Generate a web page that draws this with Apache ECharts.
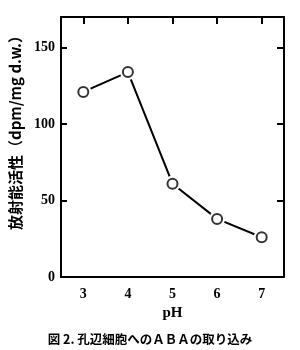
<!DOCTYPE html>
<html><head><meta charset="utf-8">
<script src="https://cdn.jsdelivr.net/npm/echarts@6/dist/echarts.min.js"></script>
<style>html,body{margin:0;padding:0;background:#fff}#c{width:300px;height:350px}</style>
</head><body><div id="c"></div>
<script>
const categories = ['3', '4', '5', '6', '7'];
const activity = [121, 134, 61, 38, 26];
const yTicks = [0, 50, 100, 150];
const yTitle = '放射能活性（dpm/mg d.w.）';
const xTitle = 'pH';
const caption = '図 2. 孔辺細胞へのＡＢＡの取り込み';

const chart = echarts.init(document.getElementById('c'), null, {renderer: 'canvas'});
const numFont = 'Liberation Serif';
chart.setOption({
  animation: false,
  backgroundColor: '#fff',
  title: {
    text: caption, left: 'center', top: 328,
    textStyle: {fontFamily: 'Noto Sans CJK JP', fontSize: 12.5, fontWeight: 'bold', color: '#000'}
  },
  grid: {left: 55, right: 16, top: 17, bottom: 73},
  xAxis: [{
    type: 'category', data: categories, position: 'bottom', boundaryGap: true,
    name: xTitle, nameLocation: 'middle', nameGap: 27,
    nameTextStyle: {fontFamily: numFont, fontSize: 15, fontWeight: 'bold', color: '#000'},
    axisLine: {onZero: false, lineStyle: {color: '#000', width: 2}},
    axisTick: {alignWithLabel: true, inside: true, length: 7, lineStyle: {width: 2, color: '#000'}},
    axisLabel: {fontFamily: numFont, fontSize: 14, fontWeight: 'bold', color: '#000', margin: 10},
    splitLine: {show: false}
  }, {
    type: 'category', data: categories, position: 'top', boundaryGap: true,
    axisLine: {show: true, onZero: false, lineStyle: {color: '#000', width: 2}},
    axisTick: {show: true, alignWithLabel: true, inside: true, length: 7, lineStyle: {width: 2, color: '#000'}},
    axisLabel: {show: false}
  }],
  yAxis: [{
    type: 'value', min: 0, max: 170, interval: 50, position: 'left',
    name: yTitle, nameLocation: 'middle', nameGap: 38, nameRotate: 90,
    nameTextStyle: {fontFamily: 'Noto Sans CJK JP', fontSize: 15, fontWeight: 'bold', color: '#000', padding: [0, 0, 0, 36]},
    axisLine: {show: true, onZero: false, lineStyle: {color: '#000', width: 2}},
    axisTick: {show: true, inside: true, length: 6, lineStyle: {width: 2, color: '#000'}},
    axisLabel: {fontFamily: numFont, fontSize: 14, fontWeight: 'bold', color: '#000', margin: 6,
      formatter: v => yTicks.includes(v) ? String(v) : ''},
    splitLine: {show: false}
  }, {
    type: 'value', min: 0, max: 170, interval: 50, position: 'right',
    axisLine: {show: true, onZero: false, lineStyle: {color: '#000', width: 2}},
    axisTick: {show: true, inside: true, length: 7, lineStyle: {width: 2, color: '#000'}},
    axisLabel: {show: false},
    splitLine: {show: false}
  }],
  series: [{
    type: 'line', data: activity, xAxisIndex: 0, yAxisIndex: 0,
    lineStyle: {color: '#000', width: 2},
    symbol: 'circle', symbolSize: 16,
    itemStyle: {color: '#fff', borderWidth: 0}
  }, {
    type: 'scatter', data: activity, xAxisIndex: 0, yAxisIndex: 0,
    symbol: 'circle', symbolSize: 10,
    itemStyle: {color: '#fff', borderColor: '#000', borderWidth: 2}, z: 5
  }]
});
</script></body></html>
